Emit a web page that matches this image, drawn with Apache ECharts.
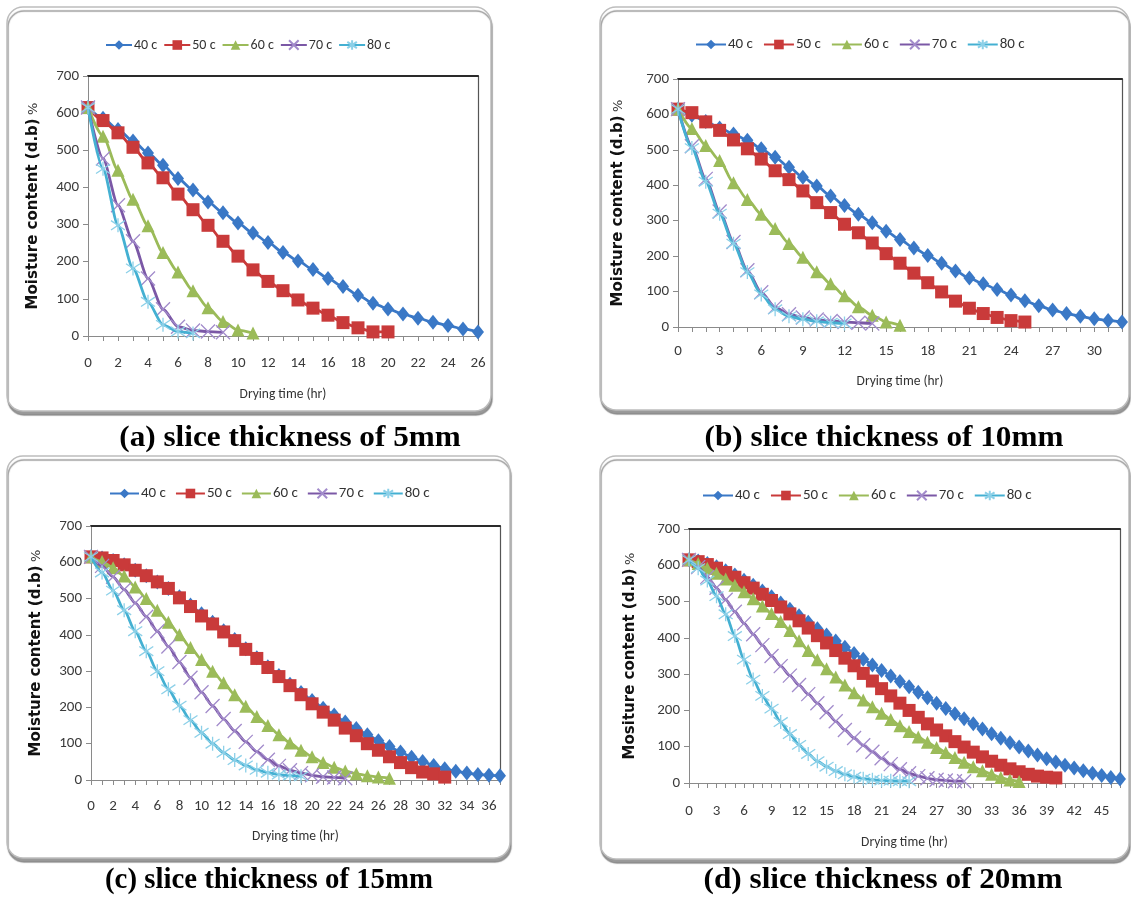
<!DOCTYPE html>
<html>
<head>
<meta charset="utf-8">
<script src="https://cdn.jsdelivr.net/npm/echarts@6/dist/echarts.min.js"></script>
<style>
  html, body { margin: 0; padding: 0; background: #ffffff; }
  #chart { width: 1131px; height: 905px; }
</style>
</head>
<body>
<div id="chart"></div>
<script>
// ---- data -------------------------------------------------------------
const seriesNames = ['40 c', '50 c', '60 c', '70 c', '80 c'];
const yTicks = [0, 100, 200, 300, 400, 500, 600, 700];
const captions = [
  '(a) slice thickness of 5mm',
  '(b) slice thickness of 10mm',
  '(c) slice thickness of 15mm',
  '(d) slice thickness of 20mm'
];
const yTitles = [
  'Moisture content (d.b)',
  'Moisture content (d.b)',
  'Moisture content (d.b)',
  'Mositure content (d.b)'
];
const xTitle = 'Drying time (hr)';
// x-axis end (hr) and label step for each panel
const xMaxes = [26, 32, 37, 47];
const xLabelSteps = [2, 3, 2, 3];

// moisture content (% d.b.) read hourly from t = 0
// (a) 5 mm
const a40 = [615,586,556,525,493,460,424,393,361,332,304,277,252,225,202,179,155,133,110,88,73,59,48,37,28,19,11];
const a50 = [615,580,547,508,466,426,382,340,298,255,215,178,147,122,97,75,56,36,22,11,11];
const a60 = [615,538,446,368,297,225,172,122,76,39,16,8];
const a70 = [615,478,352,255,155,72,25,15,12,10];
const a80 = [615,450,298,182,92,30,12,7];
// (b) 10 mm
const b40 = [615,598,580,562,545,527,503,479,451,423,398,370,343,318,294,270,247,223,202,180,158,138,122,106,90,74,60,48,38,30,23,18,14];
const b50 = [615,605,579,555,528,503,474,441,416,384,351,323,290,266,237,207,180,152,125,99,73,53,38,27,18,14];
const b60 = [615,560,512,470,407,360,318,278,236,197,156,122,88,57,33,14,5];
const b70 = [615,510,418,326,240,160,98,56,36,27,21,17,14,12,10];
const b80 = [615,505,410,320,235,155,92,50,30,22,16,12,10];
// (c) 15 mm
const c40 = [615,612,605,593,578,563,546,528,505,482,458,435,411,387,362,337,312,288,264,241,219,198,179,160,142,125,108,92,77,63,51,40,31,24,19,15,13,12];
const c50 = [615,612,605,593,578,563,546,528,502,478,452,430,408,384,360,335,310,285,260,235,210,187,165,143,122,100,82,64,48,34,22,17,8];
const c60 = [615,602,585,562,532,500,468,435,400,365,332,300,268,235,203,175,150,125,102,82,64,48,35,25,17,12,8,5];
const c70 = [615,590,560,525,488,450,410,368,325,282,242,204,168,135,105,78,56,39,27,19,13,9,7,5];
const c80 = [615,572,522,468,410,355,300,250,205,165,130,100,75,55,40,28,20,15,12,10];
// (d) 20 mm
const d40 = [615,612,605,596,585,573,559,545,529,513,496,479,461,443,425,408,391,374,357,341,325,310,295,280,265,250,235,220,205,191,177,163,149,136,123,111,99,88,77,67,58,49,41,34,27,21,15,11];
const d50 = [615,610,602,592,580,567,552,537,520,503,485,466,447,427,406,386,365,344,323,302,281,260,240,220,200,181,163,146,130,114,99,85,72,60,49,39,31,24,19,16,14];
const d60 = [615,605,592,578,562,545,527,508,488,467,445,420,392,365,340,315,292,270,249,229,210,192,175,158,142,127,112,98,84,70,57,45,34,24,15,8,4];
const d70 = [615,595,568,538,505,472,440,410,380,350,322,296,270,245,220,195,170,146,124,104,86,68,52,38,27,19,13,9,7,5,5];
const d80 = [615,592,558,515,465,405,340,285,240,205,168,135,105,80,60,45,33,24,17,12,9,7,6,5,5];

const panelValues = [
  [a40, a50, a60, a70, a80],
  [b40, b50, b60, b70, b80],
  [c40, c50, c60, c70, c80],
  [d40, d50, d60, d70, d80]
];

// ---- layout & styling -------------------------------------------------
const W = 1131, H = 905;
const boxes = [
  { x: 7,   y: 7,   w: 484, h: 404 },
  { x: 600, y: 7,   w: 529, h: 403 },
  { x: 7,   y: 456, w: 503, h: 402 },
  { x: 600, y: 456, w: 529, h: 403 }
];
const grids = [
  { left: 88,  top: 76,  width: 390, height: 260 },
  { left: 678, top: 79,  width: 444, height: 248 },
  { left: 91,  top: 526, width: 409, height: 254 },
  { left: 689, top: 529, width: 431, height: 254 }
];
const legends = [
  { left: 100, top: 33,  fontSize: 14, itemWidth: 26, itemGap: 6 },
  { left: 690, top: 32,  fontSize: 15, itemWidth: 30, itemGap: 10 },
  { left: 104, top: 481, fontSize: 15, itemWidth: 29, itemGap: 9 },
  { left: 697, top: 483, fontSize: 15, itemWidth: 30, itemGap: 10 }
];
const captions_layout = [
  { x: 290, y: 438, scaleX: 1.04 },
  { x: 884, y: 438, scaleX: 1.04 },
  { x: 269, y: 880, scaleX: 0.96 },
  { x: 883, y: 880, scaleX: 1.04 }
];
const yNameGaps = [47, 52, 47, 51];
const xNameGaps = [52, 48, 50, 53];
const xLabelMargins = [20, 17, 19, 21];

const lineColors = ['#3A78C6', '#C93A3A', '#9BBB59', '#7B58A6', '#44B0D2'];
const markerStroke = [null, null, null, '#A28BCB', '#8CD0E8'];
const xPath = 'path://M0,0L10,10M10,0L0,10';
const starPath = 'path://M0,1L10,9M10,1L0,9M5,-1L5,11';
const symbols = ['diamond', 'rect', 'triangle', xPath, starPath];
const symbolSizes = [[12, 15], 13, 13, 14, 14];

const tickFont = "Carlito, 'Liberation Sans Narrow', 'Open Sans', sans-serif";
const titleFont = "'DejaVu Sans', 'Noto Sans', sans-serif";

const option = {
  animation: false,
  backgroundColor: '#ffffff',
  grid: [],
  xAxis: [],
  yAxis: [],
  legend: [],
  series: [],
  graphic: []
};

// panel frames and captions
boxes.forEach((b, i) => {
  const c = captions_layout[i];
  option.graphic.push({
    type: 'rect', z: -20, silent: true,
    shape: { x: b.x, y: b.y, width: b.w, height: b.h, r: 16 },
    style: {
      fill: '#ffffff', stroke: '#bdbdbd', lineWidth: 1.5,
      shadowColor: 'rgba(120,120,120,0.75)', shadowOffsetY: 4, shadowOffsetX: 1, shadowBlur: 1
    }
  });
  option.graphic.push({
    type: 'text', z: 10, silent: true,
    x: c.x, y: c.y, scaleX: c.scaleX,
    style: {
      text: captions[i], align: 'center', verticalAlign: 'middle',
      font: "bold 30px 'Liberation Serif', 'DejaVu Serif', serif", fill: '#000000'
    }
  });
});

panelValues.forEach((vals, p) => {
  const g = grids[p];
  option.grid.push({
    left: g.left, top: g.top, width: g.width, height: g.height,
    outerBoundsMode: 'none', containLabel: false
  });

  const step = xLabelSteps[p];
  // bottom value axis
  option.xAxis.push({
    type: 'value', gridIndex: p, min: 0, max: xMaxes[p], interval: 1,
    axisLine: { show: true, onZero: false, lineStyle: { color: '#8a8a8a', width: 1 } },
    axisTick: { show: true, length: 5, inside: false, lineStyle: { color: '#8a8a8a' } },
    axisLabel: {
      margin: xLabelMargins[p], color: '#3a3a3a', fontSize: 15, fontFamily: tickFont,
      formatter: v => (v % step === 0 ? String(v) : '')
    },
    splitLine: { show: false },
    name: xTitle, nameLocation: 'middle', nameGap: xNameGaps[p],
    nameTextStyle: { color: '#333333', fontSize: 13.5, fontFamily: tickFont }
  });
  // top frame line
  option.xAxis.push({
    type: 'value', gridIndex: p, position: 'top', min: 0, max: xMaxes[p],
    axisLine: { show: true, onZero: false, lineStyle: { color: '#2a2a2a', width: 2 } },
    axisTick: { show: false }, axisLabel: { show: false }, splitLine: { show: false }
  });
  // left value axis
  option.yAxis.push({
    type: 'value', gridIndex: p, min: yTicks[0], max: yTicks[yTicks.length - 1],
    interval: yTicks[1] - yTicks[0],
    axisLine: { show: true, onZero: false, lineStyle: { color: '#8a8a8a', width: 1 } },
    axisTick: { show: true, length: 5, inside: false, lineStyle: { color: '#8a8a8a' } },
    axisLabel: { margin: 9, color: '#3a3a3a', fontSize: 15, fontFamily: tickFont },
    splitLine: { show: false },
    name: '{b|' + yTitles[p] + '} {n|%}',
    nameLocation: 'middle', nameGap: yNameGaps[p], nameRotate: 90,
    nameTextStyle: {
      rich: {
        b: { fontWeight: 'bold', fontSize: 15, fontFamily: titleFont, color: '#111111' },
        n: { fontSize: 13, fontFamily: titleFont, color: '#333333' }
      }
    }
  });
  // right frame line
  option.yAxis.push({
    type: 'value', gridIndex: p, position: 'right', min: 0, max: 700,
    axisLine: { show: true, onZero: false, lineStyle: { color: '#555555', width: 1.2 } },
    axisTick: { show: false }, axisLabel: { show: false }, splitLine: { show: false }
  });

  const lg = legends[p];
  option.legend.push({
    left: lg.left, top: lg.top,
    orient: 'horizontal', itemWidth: lg.itemWidth, itemHeight: 12, itemGap: lg.itemGap,
    textStyle: { color: '#333333', fontSize: lg.fontSize, fontFamily: tickFont, padding: [0, 0, 0, -3] },
    data: seriesNames, selectedMode: false
  });

  vals.forEach((arr, s) => {
    const stroke = markerStroke[s];
    option.series.push({
      name: seriesNames[s], type: 'line',
      xAxisIndex: p * 2, yAxisIndex: p * 2,
      data: arr.map((v, i) => [i, v]),
      symbol: symbols[s], symbolSize: symbolSizes[s],
      smooth: 0.25, smoothMonotone: 'x',
      lineStyle: { color: lineColors[s], width: 2.8 },
      itemStyle: stroke
        ? { color: 'rgba(0,0,0,0)', borderColor: stroke, borderWidth: 1.3 }
        : { color: lineColors[s], borderWidth: 0 },
      emphasis: { disabled: true },
      z: 3 + s
    });
  });
});

const chart = echarts.init(document.getElementById('chart'), null, { renderer: 'canvas', width: W, height: H });
chart.setOption(option);
</script>
</body>
</html>
